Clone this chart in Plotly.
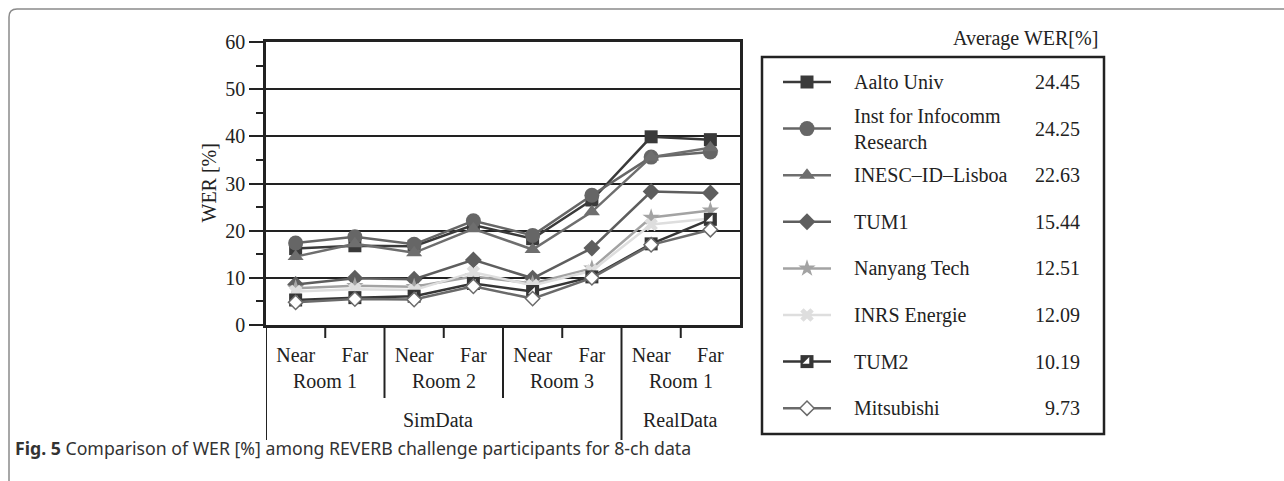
import plotly.graph_objects as go

W, H = 1284, 481


def fx(px):
    return px / W


def fy(py):
    return 1 - py / H


# ---------------- data ----------------
near_far = ["Near", "Far", "Near", "Far", "Near", "Far", "Near", "Far"]
rooms = ["Room 1", "Room 2", "Room 3", "Room 1"]
datasets = ["SimData", "RealData"]

participants = ["Aalto Univ", "Inst for Infocomm<br>Research", "INESC\u2013ID\u2013Lisboa",
                "TUM1", "Nanyang Tech", "INRS Energie", "TUM2", "Mitsubishi"]
averages = ["24.45", "24.25", "22.63", "15.44", "12.51", "12.09", "10.19", "9.73"]

aalto = [16.2, 16.8, 16.7, 21.2, 18.3, 26.5, 39.9, 39.3]
inst = [17.4, 18.7, 17.1, 22.1, 19.0, 27.5, 35.6, 36.7]
inesc = [14.5, 17.2, 15.3, 20.4, 16.0, 24.0, 35.6, 37.6]
tum1 = [8.6, 9.9, 9.7, 13.8, 9.9, 16.3, 28.3, 28.0]
nanyang = [7.8, 8.3, 8.1, 10.3, 8.8, 12.0, 22.8, 24.3]
inrs = [7.1, 7.6, 7.4, 11.2, 8.4, 11.5, 21.3, 22.6]
tum2 = [5.3, 5.8, 6.1, 8.8, 7.1, 10.2, 17.2, 22.4]
mitsubishi = [4.8, 5.5, 5.4, 8.2, 5.6, 10.0, 17.0, 20.2]

series = [aalto, inst, inesc, tum1, nanyang, inrs, tum2, mitsubishi]

# styles: (symbol, fill, line colour, marker size, half-filled overlay)
styles = [
    ("square", "#3a3a3a", "#3a3a3a", 13, False),
    ("circle", "#666666", "#666666", 15, False),
    ("triangle-up", "#6e6e6e", "#6e6e6e", 14, False),
    ("diamond", "#5e5e5e", "#5e5e5e", 13, False),
    ("star", "#a3a3a3", "#a3a3a3", 13, False),
    ("x", "#dedede", "#dedede", 12, False),
    ("square", "#363636", "#363636", 13, True),
    ("diamond", "#ffffff", "#6a6a6a", 11, False),
]

xs = list(range(len(near_far)))
FONT = "Liberation Serif"
TXT = "#222222"

fig = go.Figure()


def add_series(xv, yv, style, mode, xa="x", ya="y"):
    sym, fill, lc, sz, half = style
    open_fill = fill == "#ffffff"
    fig.add_trace(go.Scatter(
        x=xv, y=yv, mode=mode,
        line=dict(color=lc, width=2.5),
        marker=dict(symbol=sym, size=sz, color=fill,
                    line=dict(color=lc, width=1.5 if open_fill else 0)),
        xaxis=xa, yaxis=ya, showlegend=False, hoverinfo="skip"))
    if half:
        # white lower-right triangle -> half-filled square look
        fig.add_trace(go.Scatter(
            x=xv, y=yv, mode="markers",
            marker=dict(symbol="triangle-se", size=sz * 0.58, color="#ffffff",
                        line=dict(width=0)),
            xaxis=xa, yaxis=ya, showlegend=False, hoverinfo="skip"))


for vals, st in zip(series, styles):
    add_series(xs, vals, st, "lines+markers")

# ---------------- manual legend (axis 2, pixel coords) ----------------
row0, row_step = 82, 46.6
seg_x0, seg_x1, mark_x = 783, 831, 807
name_x, val_x = 852, 1082

for i, (name, avg, st) in enumerate(zip(participants, averages, styles)):
    ry = row0 + row_step * i
    fig.add_trace(go.Scatter(
        x=[seg_x0, seg_x1], y=[ry, ry], mode="lines",
        line=dict(color=st[2], width=2.5), xaxis="x2", yaxis="y2",
        showlegend=False, hoverinfo="skip"))
    add_series([mark_x], [ry], st, "markers", "x2", "y2")
    fig.add_annotation(x=name_x, y=ry, xref="x2", yref="y2", text=name, showarrow=False,
                       xanchor="left", yanchor="middle", align="left",
                       font=dict(size=20, color=TXT))
    fig.add_annotation(x=val_x, y=ry, xref="x2", yref="y2", text=avg, showarrow=False,
                       xanchor="right", yanchor="middle",
                       font=dict(size=20, color=TXT))

# ---------------- category labels below axis ----------------
for i, room in enumerate(rooms):
    fig.add_annotation(x=2 * i + 0.5, y=fy(381), xref="x", yref="paper", text=room,
                       showarrow=False, xanchor="center", yanchor="middle",
                       font=dict(size=20, color=TXT))
fig.add_annotation(x=2.4, y=fy(420), xref="x", yref="paper", text=datasets[0],
                   showarrow=False, xanchor="center", yanchor="middle",
                   font=dict(size=20, color=TXT))
fig.add_annotation(x=6.5, y=fy(420), xref="x", yref="paper", text=datasets[1],
                   showarrow=False, xanchor="center", yanchor="middle",
                   font=dict(size=20, color=TXT))

shapes = []
axis_col = "#222222"
for i in range(4):
    shapes.append(dict(type="line", xref="x", yref="paper", x0=2 * i + 0.5, x1=2 * i + 0.5,
                       y0=fy(325), y1=fy(338), line=dict(color=axis_col, width=2)))
for b in (1.5, 3.5):
    shapes.append(dict(type="line", xref="x", yref="paper", x0=b, x1=b,
                       y0=fy(325), y1=fy(398), line=dict(color=axis_col, width=2)))
for b in (-0.5, 5.5):
    shapes.append(dict(type="line", xref="x", yref="paper", x0=b, x1=b,
                       y0=fy(325), y1=fy(440), line=dict(color=axis_col, width=2)))

shapes.append(dict(type="rect", xref="paper", yref="paper", x0=fx(762), x1=fx(1104),
                   y0=fy(434), y1=fy(57), line=dict(color="#222", width=2.5)))

r = 8
x0p, y0p = 9, 9
path = (f"M {fx(x0p)},{fy(H + 5)} L {fx(x0p)},{fy(y0p + r)} "
        f"Q {fx(x0p)},{fy(y0p)} {fx(x0p + r)},{fy(y0p)} L {fx(W + 5)},{fy(y0p)}")
shapes.append(dict(type="path", xref="paper", yref="paper", path=path,
                   line=dict(color="#8a8a8a", width=1.5)))

fig.add_annotation(x=fx(208), y=fy(183.5), xref="paper", yref="paper", text="WER [%]",
                   textangle=-90, showarrow=False, xanchor="center", yanchor="middle",
                   font=dict(size=20, color=TXT))
fig.add_annotation(x=fx(1100), y=fy(38), xref="paper", yref="paper", text="Average WER[%]",
                   showarrow=False, xanchor="right", yanchor="middle",
                   font=dict(size=20, color=TXT))
fig.add_annotation(x=fx(13), y=fy(448), xref="paper", yref="paper",
                   text="<b>Fig. 5</b> Comparison of WER [%] among REVERB challenge participants for 8-ch data",
                   showarrow=False, xanchor="left", yanchor="middle",
                   font=dict(family="Noto Sans", size=17.7, color="#333"))

fig.update_layout(
    template="none",
    width=W, height=H, autosize=False,
    margin=dict(l=0, r=0, t=0, b=0, pad=0, autoexpand=False),
    paper_bgcolor="white", plot_bgcolor="white",
    font=dict(family=FONT, size=20, color=TXT),
    shapes=shapes,
    xaxis=dict(domain=[fx(266), fx(740)], range=[-0.5, 7.5], automargin=False,
               tickmode="array", tickvals=xs, ticktext=near_far,
               ticks="", showgrid=False, zeroline=False,
               showline=True, mirror=True, linecolor=axis_col, linewidth=2.5,
               ticklabelstandoff=10, tickfont=dict(size=20, color=TXT),
               fixedrange=True),
    yaxis=dict(domain=[fy(325), fy(42)], range=[0, 60], dtick=10, automargin=False,
               ticks="outside", ticklen=14, tickwidth=2, tickcolor=axis_col,
               showgrid=True, gridcolor=axis_col, gridwidth=2, zeroline=False,
               showline=True, mirror=True, linecolor=axis_col, linewidth=2.5,
               minor=dict(dtick=5, ticks="outside", ticklen=7, tickwidth=1.5,
                          tickcolor=axis_col, showgrid=False),
               tickfont=dict(size=20, color=TXT), fixedrange=True),
    xaxis2=dict(domain=[fx(762), fx(1104)], range=[762, 1104], visible=False,
                anchor="y2", fixedrange=True, automargin=False),
    yaxis2=dict(domain=[fy(434), fy(57)], range=[434, 57], visible=False,
                anchor="x2", fixedrange=True, automargin=False),
)

fig.write_html("out.html", config={"responsive": False, "displayModeBar": False},
               post_script="document.body.style.margin='0';document.body.style.overflow='hidden';")
